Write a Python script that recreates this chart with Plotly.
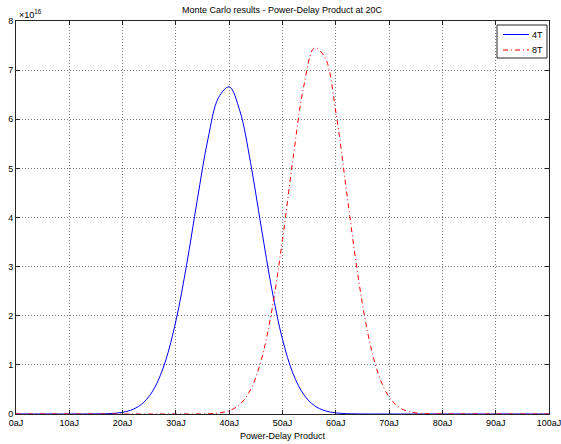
import plotly.graph_objects as go

# x positions in aJ
x4 = [0, 10, 15, 18, 20, 22, 24, 26, 28, 30, 32, 34, 36, 38, 40, 42, 44, 46, 48, 50,
      52, 54, 56, 58, 60, 62, 65, 70, 80, 100]
# 4T density (units of 1e16)
y4 = [0, 0, 0.002, 0.011, 0.035, 0.097, 0.24, 0.533, 1.061, 1.894, 3.03, 4.35, 5.59, 6.44, 6.66,
      6.17, 5.12, 3.81, 2.54, 1.52, 0.816, 0.392, 0.169, 0.065, 0.023, 0.007, 0.001, 0, 0, 0]

x8 = [0, 20, 30, 36, 38, 40, 42, 44, 46, 48, 50, 52, 54, 56, 58, 60, 62, 64, 66, 68, 70,
      72, 74, 76, 78, 80, 90, 100]
y8 = [0, 0, 0, 0.005, 0.02, 0.067, 0.194, 0.493, 1.092, 2.11, 3.55, 5.22, 6.68, 7.45, 7.25,
      6.15, 4.55, 2.93, 1.65, 0.808, 0.345, 0.128, 0.042, 0.012, 0.003, 0.001, 0, 0]

xtickvals = [0, 10, 20, 30, 40, 50, 60, 70, 80, 90, 100]
xticktext = ["0aJ", "10aJ", "20aJ", "30aJ", "40aJ", "50aJ", "60aJ", "70aJ", "80aJ", "90aJ", "100aJ"]
ytickvals = [0, 1, 2, 3, 4, 5, 6, 7, 8]
series_names = ["4T", "8T"]
series_colors = ["#0000ff", "#ff0000"]
series_dash = ["solid", "5px,3px,1px,3px"]

FONT = "Liberation Sans, Arial, Helvetica, sans-serif"
W, H = 561, 444
L, R, T, B = 16, 12, 21, 30
PW, PH = W - L - R, H - T - B


def px_x(p):
    return (p - L) / PW


def px_y(p):
    return 1 - (p - T) / PH


fig = go.Figure()
for xs, ys, nm, c, d in [(x4, y4, series_names[0], series_colors[0], series_dash[0]),
                          (x8, y8, series_names[1], series_colors[1], series_dash[1])]:
    fig.add_trace(go.Scatter(x=xs, y=ys, mode="lines", name=nm, showlegend=False,
                             line=dict(color=c, width=1, dash=d, shape="spline", smoothing=1)))

axis_common = dict(showline=True, linecolor="#262626", linewidth=1, mirror="ticks",
                   ticks="inside", ticklen=4, tickcolor="#262626",
                   showgrid=True, gridcolor="#7a7a7a", griddash="1px,2px", gridwidth=1,
                   zeroline=False, automargin=False, ticklabeloverflow="allow",
                   tickfont=dict(family=FONT, size=9, color="#000"))

fig.update_xaxes(range=[0, 100], tickvals=xtickvals, ticktext=xticktext, **axis_common)
fig.update_yaxes(range=[0, 8], tickvals=ytickvals, **axis_common)

# legend drawn manually (box, sample lines, labels)
shapes = [dict(type="rect", xref="paper", yref="paper",
               x0=px_x(497), x1=px_x(547), y0=px_y(58), y1=px_y(25),
               line=dict(color="#262626", width=1), fillcolor="white", layer="above")]
annotations = []
for i, (nm, c, d) in enumerate(zip(series_names, series_colors, series_dash)):
    yy = px_y(34.5 + i * 15.5)
    shapes.append(dict(type="line", xref="paper", yref="paper",
                       x0=px_x(503), x1=px_x(529), y0=yy, y1=yy,
                       line=dict(color=c, width=1, dash=d), layer="above"))
    annotations.append(dict(text=nm, xref="paper", yref="paper", x=px_x(530), y=yy,
                            xanchor="left", yanchor="middle", showarrow=False,
                            font=dict(family=FONT, size=9, color="#000")))

annotations.append(dict(text="×10<sup>16</sup>", xref="paper", yref="paper", x=0, y=1,
                        xanchor="left", yanchor="bottom", showarrow=False, xshift=1, yshift=-1,
                        font=dict(family=FONT, size=9, color="#000")))
annotations.append(dict(text="Power-Delay Product", xref="paper", yref="paper", x=0.5,
                        y=px_y(435.5), xanchor="center", yanchor="middle", showarrow=False,
                        font=dict(family=FONT, size=9, color="#000")))

fig.update_layout(
    width=W, height=H,
    margin=dict(l=L, r=R, t=T, b=B),
    paper_bgcolor="white", plot_bgcolor="white",
    font=dict(family=FONT, size=9, color="#000"),
    title=dict(text="Monte Carlo results - Power-Delay Product at 20C", x=282 / W,
               xanchor="center", y=1 - 10 / H, yanchor="middle",
               font=dict(family=FONT, size=9, color="#000")),
    showlegend=False,
    shapes=shapes,
    annotations=annotations,
)

fig.write_html("out.html")
